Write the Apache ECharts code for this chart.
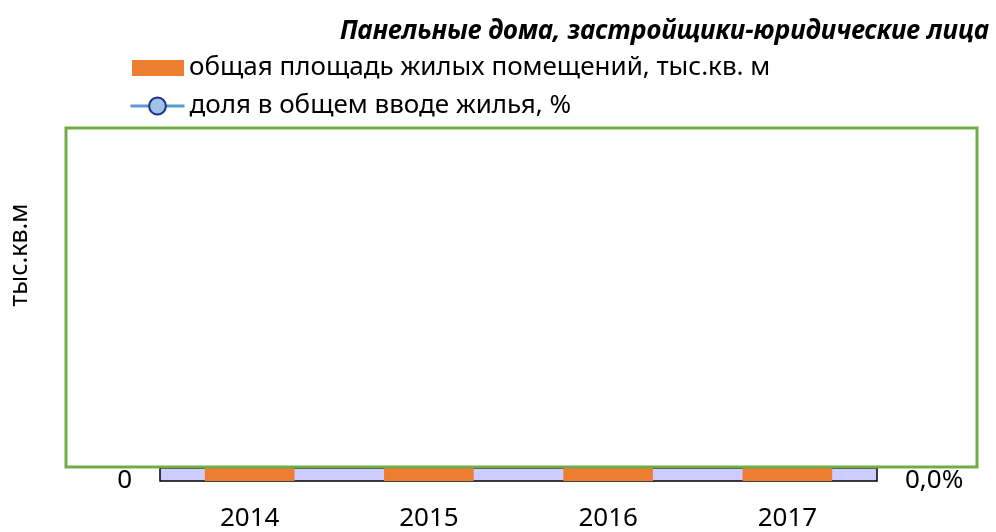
<!DOCTYPE html>
<html>
<head>
<meta charset="utf-8">
<script src="https://cdn.jsdelivr.net/npm/echarts@6/dist/echarts.min.js"></script>
<style>
html, body { margin: 0; padding: 0; background: #fff; }
#chart { width: 996px; height: 532px; }
</style>
</head>
<body>
<div id="chart"></div>
<script>
// данные
var years = ['2014', '2015', '2016', '2017'];
var area = [0, 0, 0, 0];          // общая площадь жилых помещений, тыс.кв. м
var share = [null, null, null, null]; // доля в общем вводе жилья, %

var fnt = '"Noto Sans", "Open Sans", sans-serif';
var nameArea = 'общая площадь жилых помещений, тыс.кв. м';
var nameShare = 'доля в общем вводе жилья, %';

var myChart = echarts.init(document.getElementById('chart'));

myChart.setOption({
    animation: false,
    title: {
        text: 'Панельные дома, застройщики-юридические лица',
        right: 2,
        top: 14,
        textStyle: { fontFamily: fnt, fontSize: 26, fontWeight: 'bold', fontStyle: 'italic', color: '#000' }
    },
    legend: [{
        left: 127,
        top: 50,
        itemWidth: 52,
        itemHeight: 16,
        textStyle: { fontFamily: fnt, fontSize: 26, color: '#000' },
        data: [{ name: nameArea, icon: 'rect' }]
    }, {
        left: 124,
        top: 88,
        itemWidth: 54,
        itemHeight: 21,
        lineStyle: { width: 3, color: '#5b9bd5' },
        textStyle: { fontFamily: fnt, fontSize: 26, color: '#000' },
        data: [nameShare]
    }],
    grid: {
        left: 160,
        right: 119,
        top: 468,
        height: 14,
        show: true,
        backgroundColor: '#ccccff',
        borderColor: '#000',
        borderWidth: 1.5
    },
    graphic: [{
        type: 'rect',
        shape: { x: 66, y: 128, width: 911, height: 339 },
        style: { fill: 'none', stroke: '#70ad47', lineWidth: 3 },
        z: 100
    }, {
        type: 'text',
        x: 20,
        y: 255,
        rotation: Math.PI / 2,
        style: { text: 'тыс.кв.м', fontFamily: fnt, fontSize: 25, fill: '#000', align: 'center', verticalAlign: 'middle' }
    }],
    xAxis: {
        type: 'category',
        data: years,
        axisLine: { show: false },
        axisTick: { show: false },
        axisLabel: { margin: 25, fontFamily: fnt, fontSize: 26, color: '#000' }
    },
    yAxis: [{
        type: 'value',
        min: 0,
        max: 1,
        interval: 1,
        splitLine: { show: false },
        axisLabel: { showMinLabel: true, showMaxLabel: false, margin: 28, fontFamily: fnt, fontSize: 26, color: '#000' }
    }, {
        type: 'value',
        min: 0,
        max: 1,
        interval: 1,
        splitLine: { show: false },
        axisLabel: {
            showMinLabel: true, showMaxLabel: false, margin: 28, fontFamily: fnt, fontSize: 26, color: '#000',
            formatter: function (v) { return v.toFixed(1).replace('.', ',') + '%'; }
        }
    }],
    series: [{
        name: nameArea,
        type: 'bar',
        data: area,
        barWidth: '50%',
        itemStyle: { color: '#ed7d31' },
        showBackground: true,
        backgroundStyle: { color: '#ed7d31', opacity: 1 }
    }, {
        name: nameShare,
        type: 'line',
        yAxisIndex: 1,
        data: share,
        symbol: 'circle',
        symbolSize: 17,
        lineStyle: { color: '#5b9bd5', width: 3 },
        itemStyle: { color: '#9dc3e6', borderColor: '#1f2f8f', borderWidth: 1.5 }
    }]
});
</script>
</body>
</html>
